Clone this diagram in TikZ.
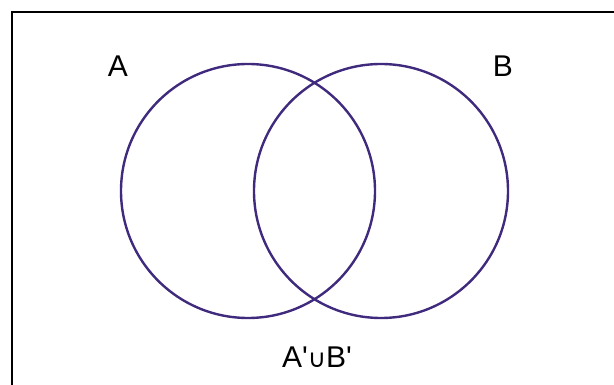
\documentclass[tikz,border=0pt]{standalone}
\usepackage{fontspec}
\setmainfont{Liberation Sans}
\newfontfamily\symfont{DejaVu Sans}
\usepackage{tikz}
\usetikzlibrary{positioning}
\definecolor{setpurple}{HTML}{3F2A7D}

\begin{document}
\begin{tikzpicture}[
  x=1pt, y=-1pt,
  setcirc/.style={draw=setpurple, circle, line width=2.4pt, minimum size=254pt, inner sep=0pt},
  lbl/.style={font=\fontsize{30}{34}\selectfont, inner sep=0pt}
]
  \useasboundingbox (0,0) rectangle (614,385);
  \clip (0,0) rectangle (614,385);
  \draw[line width=2pt] (12,420) -- (12,12) -- (640,12);

  \node[setcirc] (setA) at (248,191) {};
  \node[setcirc] (setB) at (381,191) {};

  \node[lbl] (labA) at (118,66) {A};
  \node[lbl] (labB) at (503,66) {B};
  \node[lbl] (labU) at (317,357) {A\textquotesingle{\symfont\fontsize{25}{30}\selectfont ∪}B\textquotesingle};
\end{tikzpicture}
\end{document}
